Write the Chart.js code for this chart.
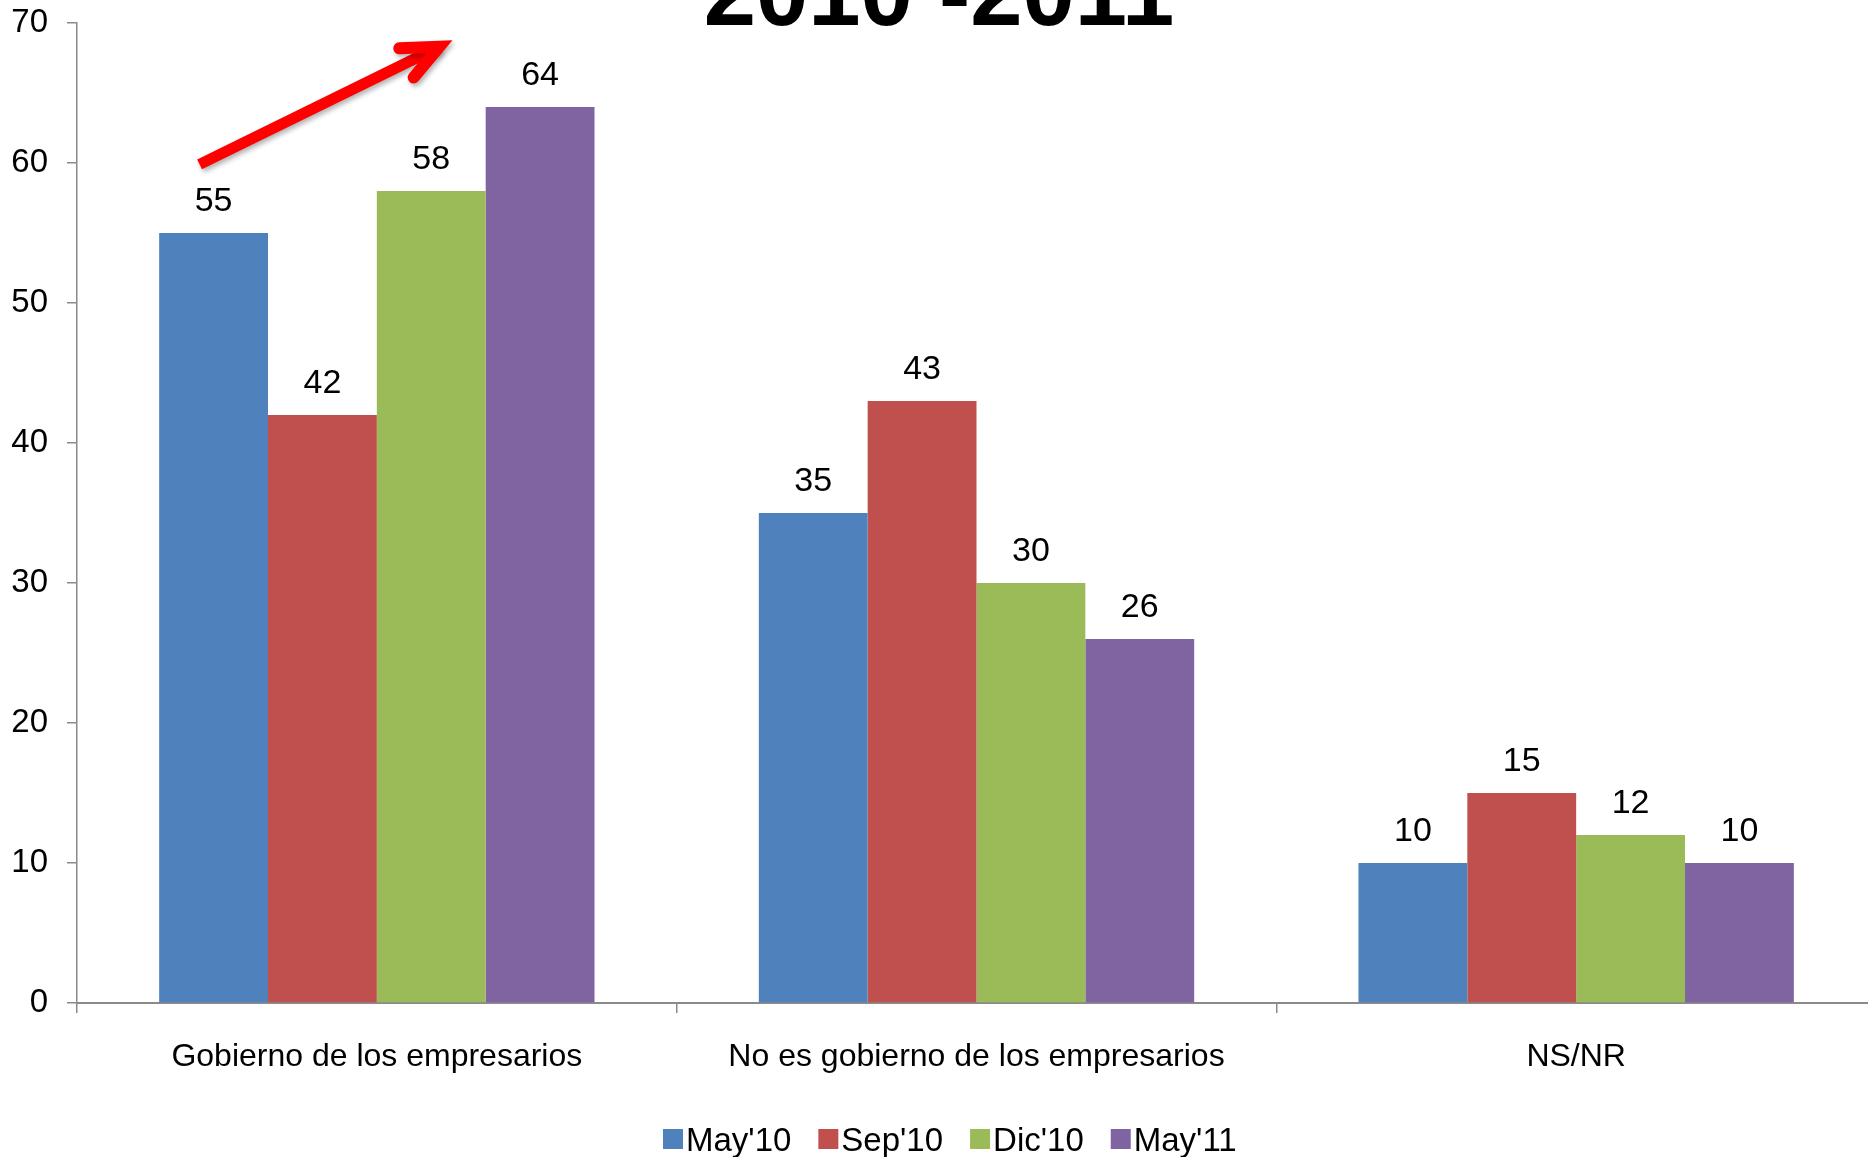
<!DOCTYPE html>
<html>
<head>
<meta charset="utf-8">
<script src="https://cdn.jsdelivr.net/npm/chart.js@4/dist/chart.umd.min.js"></script>
<style>
  html, body { margin: 0; padding: 0; background: #fff; overflow: hidden; }
  canvas { display: block; }
</style>
</head>
<body>
<canvas id="render" width="1876" height="1157"></canvas>
<script>
const categories = ['Gobierno de los empresarios', 'No es gobierno de los empresarios', 'NS/NR'];
const seriesNames = ["May'10", "Sep'10", "Dic'10", "May'11"];
const may10 = [55, 35, 10];
const sep10 = [42, 43, 15];
const dic10 = [58, 30, 12];
const may11 = [64, 26, 10];
const yTicks = [0, 10, 20, 30, 40, 50, 60, 70];
const title = '2010 -2011';

const colors = ['#4F81BD', '#C0504D', '#9BBB59', '#8064A2'];
const FONT = '"Liberation Sans", Arial, sans-serif';

const data = {
    labels: categories,
    datasets: [may10, sep10, dic10, may11].map((values, i) => ({
        label: seriesNames[i],
        data: values,
        backgroundColor: colors[i],
        borderWidth: 0,
        barPercentage: 1,
        categoryPercentage: 0.726
    }))
};

// value labels above bars
const valueLabels = {
    id: 'valueLabels',
    afterDatasetsDraw(chart) {
        const ctx = chart.ctx;
        ctx.save();
        ctx.font = '34px ' + FONT;
        ctx.fillStyle = '#000';
        ctx.textAlign = 'center';
        ctx.textBaseline = 'alphabetic';
        chart.data.datasets.forEach((ds, i) => {
            chart.getDatasetMeta(i).data.forEach((bar, j) => {
                ctx.fillText(String(ds.data[j]), bar.x, bar.y - 22);
            });
        });
        ctx.restore();
    }
};

// big title, cut off at the top of the picture
const topTitle = {
    id: 'topTitle',
    afterDraw(chart) {
        const ctx = chart.ctx;
        ctx.save();
        ctx.font = 'bold 94px ' + FONT;
        ctx.fillStyle = '#000';
        ctx.textAlign = 'center';
        ctx.textBaseline = 'alphabetic';
        ctx.fillText(title, 939, 25);
        ctx.restore();
    }
};

// red arrow over the first group
const arrow = {
    id: 'arrow',
    afterDraw(chart) {
        const y = chart.scales.y;
        const bars = chart.getDatasetMeta(0).data;
        const bars2 = chart.getDatasetMeta(2).data;
        const x0 = bars[0].x - 14, y0 = y.getPixelForValue(59.9);
        const x1 = bars2[0].x + 8, y1 = y.getPixelForValue(68.3);
        const ang = Math.atan2(y1 - y0, x1 - x0);
        const head = 40, spread = 0.42;
        const ctx = chart.ctx;
        ctx.save();
        ctx.shadowColor = 'rgba(0,0,0,0.3)';
        ctx.shadowBlur = 5;
        ctx.shadowOffsetX = 2;
        ctx.shadowOffsetY = 3;
        ctx.strokeStyle = '#FF0000';
        ctx.lineWidth = 11;
        ctx.lineCap = 'butt';
        ctx.beginPath();
        ctx.moveTo(x0, y0);
        ctx.lineTo(x1, y1);
        ctx.stroke();
        ctx.lineWidth = 12;
        ctx.lineCap = 'round';
        ctx.lineJoin = 'miter';
        ctx.miterLimit = 10;
        ctx.beginPath();
        ctx.moveTo(x1 - head * Math.cos(ang - spread), y1 - head * Math.sin(ang - spread));
        ctx.lineTo(x1, y1);
        ctx.lineTo(x1 - head * Math.cos(ang + spread), y1 - head * Math.sin(ang + spread));
        ctx.stroke();
        ctx.restore();
    }
};

// legend, drawn from the datasets
const bottomLegend = {
    id: 'bottomLegend',
    afterDraw(chart) {
        const ctx = chart.ctx;
        ctx.save();
        ctx.font = '33px ' + FONT;
        ctx.textBaseline = 'alphabetic';
        ctx.textAlign = 'left';
        let x = 663;
        chart.data.datasets.forEach(ds => {
            ctx.fillStyle = ds.backgroundColor;
            ctx.fillRect(x, 1129, 20, 20);
            x += 23;
            ctx.fillStyle = '#000';
            ctx.fillText(ds.label, x, 1151);
            x += ctx.measureText(ds.label).width + 27;
        });
        ctx.restore();
    }
};

const ctx = document.getElementById('render');
const chart = new Chart(ctx, {
    type: 'bar',
    data: data,
    options: {
        responsive: false,
        animation: false,
        layout: { padding: { top: 23, left: 0, right: 0, bottom: 0 } },
        plugins: {
            legend: { display: false },
            tooltip: { enabled: false },
            title: { display: false }
        },
        scales: {
            x: {
                afterFit: s => { s.height = 154; },
                border: { display: true, color: '#8a8a8a', width: 2 },
                grid: { drawOnChartArea: false, drawTicks: true, tickLength: 10, color: '#8a8a8a', lineWidth: 1.5 },
                ticks: {
                    color: '#000',
                    font: { family: FONT, size: 32 },
                    padding: 25,
                    maxRotation: 0,
                    autoSkip: false
                }
            },
            y: {
                min: 0,
                max: 70,
                afterFit: s => { s.width = 77; s.paddingTop = 0; s.paddingBottom = 0; },
                afterBuildTicks: s => { s.ticks = yTicks.map(v => ({ value: v })); },
                border: { display: true, color: '#8a8a8a', width: 1.5 },
                grid: { drawOnChartArea: false, drawTicks: true, tickLength: 10, color: '#8a8a8a', lineWidth: 1.5 },
                ticks: {
                    color: '#000',
                    font: { family: FONT, size: 33 },
                    padding: 19
                }
            }
        }
    },
    plugins: [valueLabels, topTitle, arrow, bottomLegend]
});
</script>
</body>
</html>
